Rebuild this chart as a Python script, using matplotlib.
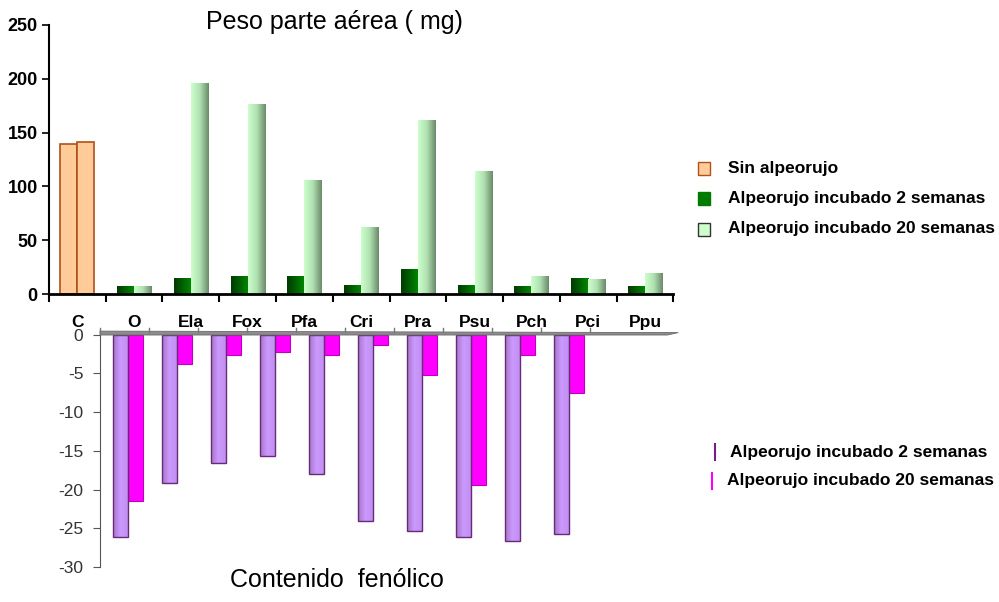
import numpy as np
import matplotlib.pyplot as plt
from matplotlib.patches import Rectangle, Polygon
from matplotlib.colors import LinearSegmentedColormap
from matplotlib.lines import Line2D

plt.rcParams['font.family'] = ['Liberation Sans', 'DejaVu Sans']

# categorias (tratamientos)
categorias = ["C", "O", "Ela", "Fox", "Pfa", "Cri", "Pra", "Psu", "Pch", "Pci", "Ppu"]

# peso parte aerea (mg)
sin_alpeorujo = [139, 141]
peso_2sem = [7.5, 14.5, 16.7, 16.7, 8.4, 23, 8.4, 7.4, 14.9, 7.4]
peso_20sem = [7.5, 196, 176.6, 106, 62, 161.7, 114, 16.7, 13.9, 19.5]

# contenido fenolico (reduccion)
fenol_2sem = [-26.1, -19.2, -16.6, -15.7, -18.0, -24.1, -25.3, -26.1, -26.7, -25.8]
fenol_20sem = [-21.5, -3.8, -2.6, -2.2, -2.6, -1.4, -5.2, -19.4, -2.6, -7.5]

yticks_sup = [0, 50, 100, 150, 200, 250]
yticks_inf = [0, -5, -10, -15, -20, -25, -30]

cm_oscuro = LinearSegmentedColormap.from_list("osc", ["#003a00", "#008a00"])
cm_claro = LinearSegmentedColormap.from_list("cla", ["#ccffcc", "#b0e0b0", "#6a8a6a"])
cm_lila = LinearSegmentedColormap.from_list("lil", ["#a476c4", "#cc99ff", "#c090f0"])
grad = np.linspace(0, 1, 64).reshape(1, -1)


def barra_gradiente(ax, x0, ancho, alto, cmap, borde=None):
    y0, y1 = (0, alto) if alto >= 0 else (alto, 0)
    im = ax.imshow(grad, cmap=cmap, aspect='auto', extent=(x0, x0 + ancho, y0, y1),
                   zorder=2, interpolation='bilinear')
    r = Rectangle((x0, y0), ancho, y1 - y0, facecolor='none',
                  edgecolor=borde if borde else 'none', lw=1, zorder=3)
    ax.add_patch(r)
    im.set_clip_path(r)


fig = plt.figure(figsize=(9.99, 6.02), dpi=100)

# ---- grafico superior: peso parte aerea ----
ax1 = fig.add_axes([0.049, 0.5116, 0.625, 0.447])
n = len(categorias)
w = 0.3
# control sin alpeorujo
for i, v in enumerate(sin_alpeorujo):
    ax1.bar(0.5 - w + i * w, v, width=w, align='edge', color='#ffcc99',
            edgecolor='#b0501a', lw=1.2, zorder=2)
for i in range(1, n):
    barra_gradiente(ax1, i + 0.5 - w, w, peso_2sem[i - 1], cm_oscuro)
    barra_gradiente(ax1, i + 0.5, w, peso_20sem[i - 1], cm_claro)

ax1.set_xlim(0, n)
ax1.set_ylim(0, 250)
ax1.set_yticks(yticks_sup)
ax1.set_yticklabels([str(t) for t in yticks_sup], fontsize=13, fontweight='bold')
ax1.set_xticks(np.arange(n + 1))
ax1.set_xticklabels([])
ax1.tick_params(axis='x', length=6, width=1.5, direction='out')
ax1.tick_params(axis='y', length=5, width=1.2, direction='out', pad=3)
for s in ['top', 'right']:
    ax1.spines[s].set_visible(False)
ax1.spines['left'].set_linewidth(1.5)
ax1.spines['bottom'].set_linewidth(2)
fig.text(0.335, 1 - 22 / 602, "Peso parte aérea ( mg)", ha='center', va='center', fontsize=18)

# etiquetas de categoria
for i, c in enumerate(categorias):
    xf = 0.049 + 0.625 * (i + 0.5) / n
    fig.text(xf, 0.465, c, ha='center', va='center', fontsize=12.5, fontweight='bold')

# ---- grafico inferior: contenido fenolico ----
ax2 = fig.add_axes([0.1001, 0.0581, 0.4905, 0.3887])
m = len(fenol_2sem)
w2 = 0.3
d = 0.07
for i in range(m):
    barra_gradiente(ax2, i + 0.5 - w2 + d, w2, fenol_2sem[i], cm_lila, borde='#6a2a7a')
    ax2.bar(i + 0.5 + d, fenol_20sem[i], width=w2, align='edge', color='#ff00ff',
            edgecolor='#c000c0', lw=0.8, zorder=2)
ax2.set_xlim(0, m)
ax2.set_ylim(-30, 0.2)
ax2.set_yticks(yticks_inf)
ax2.set_yticklabels([str(t) for t in yticks_inf], fontsize=12.5, color='#333333')
ax2.set_xticks([])
for s in ['top', 'right', 'bottom']:
    ax2.spines[s].set_visible(False)
ax2.spines['left'].set_color('#555555')
ax2.tick_params(axis='y', length=5, color='#555555', pad=7)

# base gris en perspectiva
fig.patches.append(Polygon([[0.1001, 0.4435], [0.668, 0.4435], [0.679, 0.4475],
                            [0.1001, 0.4500]], closed=True, facecolor='#8c8c8c',
                           edgecolor='#6a6a6a', lw=0.6, transform=fig.transFigure, figure=fig))
for i in range(m + 1):
    xf = 0.1001 + 0.4905 * i / m
    fig.add_artist(Line2D([xf, xf], [0.448, 0.455], color='#777777', lw=1))

fig.text(0.337, 0.016, "Contenido  fenólico", ha='center', va='bottom', fontsize=18)

# leyendas
ley_sup = [("Sin alpeorujo", '#ffcc99', '#b0501a'),
           ("Alpeorujo incubado 2 semanas", '#007a00', '#007a00'),
           ("Alpeorujo incubado 20 semanas", '#ccffcc', '#333333')]
for k, (txt, fc, ec) in enumerate(ley_sup):
    yf = 1 - [168, 198, 229][k] / 602
    fig.patches.append(Rectangle((0.699, yf - 0.011), 0.012, 0.021, facecolor=fc, edgecolor=ec,
                                 lw=1, transform=fig.transFigure, figure=fig))
    fig.text(0.729, yf, txt, va='center', fontsize=12.5, fontweight='bold')

ley_inf = [("Alpeorujo incubado 2 semanas", '#7a1a8a'),
           ("Alpeorujo incubado 20 semanas", '#ff00ff')]
for k, (txt, col) in enumerate(ley_inf):
    yf = 1 - [452, 481][k] / 602
    xl = 0.716 if k == 0 else 0.713
    fig.add_artist(Line2D([xl, xl], [yf - 0.013, yf + 0.013], color=col, lw=1.5))
    fig.text(xl + 0.015, yf, txt, va='center', fontsize=12.5, fontweight='bold')

fig.savefig("out.png", dpi=100)
